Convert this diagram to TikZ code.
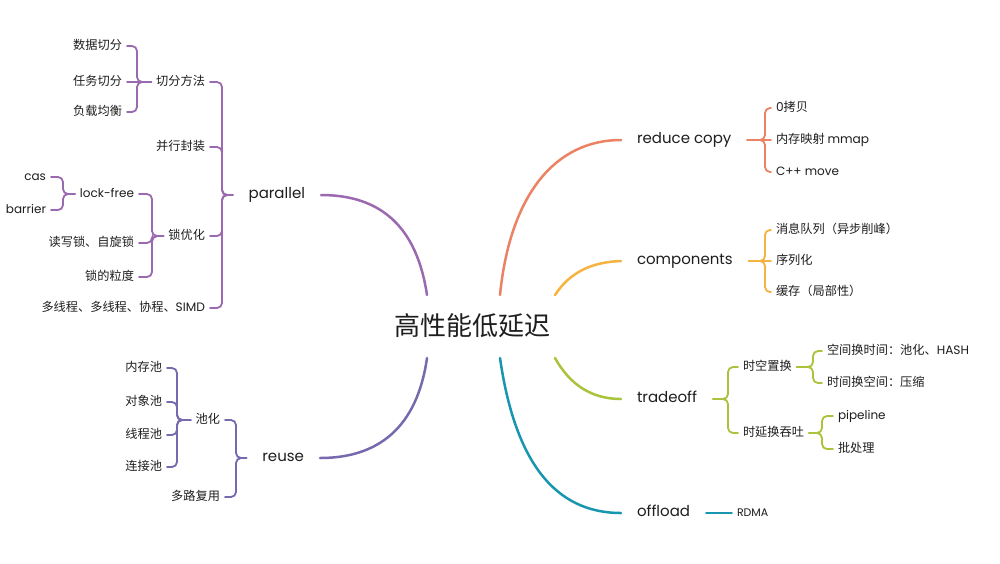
\documentclass[tikz,border=0pt]{standalone}
\usepackage{fontspec}
\newfontfamily\cjk{Noto Sans CJK SC}
\newfontfamily\lat{Poppins}
\definecolor{ink}{RGB}{30,30,30}
\definecolor{cP}{RGB}{155,105,175}
\definecolor{cR}{RGB}{120,105,175}
\definecolor{cRC}{RGB}{235,130,100}
\definecolor{cCo}{RGB}{245,180,65}
\definecolor{cT}{RGB}{170,195,60}
\definecolor{cO}{RGB}{25,150,175}
\tikzset{
 base/.style={inner sep=0pt, outer ysep=0pt, text height=0.8em, text depth=0.2em, text=ink},
 leaf/.style={base, outer xsep=5pt, font=\cjk\fontsize{12.2}{14}\selectfont},
 latleaf/.style={leaf, font=\lat\fontsize{12}{14}\selectfont},
 branch/.style={base, outer xsep=16pt, font=\lat\fontsize{15}{18}\selectfont},
 conn/.style={line width=1.8pt, rounded corners=5pt, line cap=round},
 mainline/.style={line width=2.5pt, line cap=round},
}
\begin{document}
\begin{tikzpicture}[x=1pt,y=-1pt]
\fill[white] (0,0) rectangle (1000,563);
\useasboundingbox (0,0) rectangle (1000,563);

% center
\node[inner sep=0pt, text=ink, font=\cjk\fontsize{26}{30}\selectfont] (c) at (472,326) {高性能低延迟};

% branch labels (anchor points include the 16pt outer gap)
\node[branch, anchor=east] (par) at (321,195) {parallel};
\node[branch, anchor=east] (reu) at (320,458) {reuse};
\node[branch, anchor=west] (red) at (621,140) {reduce copy};
\node[branch, anchor=west] (com) at (621,261) {components};
\node[branch, anchor=west] (tra) at (621,399) {tradeoff};
\node[branch, anchor=west] (off) at (621,513) {offload};

% main curves
\coordinate (s1) at (427,295);
\coordinate (s2) at (500,295);
\coordinate (s3) at (555,295);
\coordinate (s4) at (555,358);
\coordinate (s5) at (500,358);
\coordinate (s6) at (427,358);
\draw[mainline, cP] (s1) .. controls (417,228) and (382,195) .. (par.east);
\draw[mainline, cRC] (s2) .. controls (510,195) and (555,140) .. (red.west);
\draw[mainline, cCo] (s3) .. controls (570,272) and (592,262) .. (com.west);
\draw[mainline, cT] (s4) .. controls (570,385) and (592,399) .. (tra.west);
\draw[mainline, cO] (s5) .. controls (515,462) and (555,513) .. (off.west);
\draw[mainline, cR] (s6) .. controls (417,428) and (378,458) .. (reu.east);

% ---------- parallel subtree ----------
\node[leaf, anchor=east] (p1) at (210,82) {切分方法};
\node[leaf, anchor=east] (p2) at (210,147) {并行封装};
\node[leaf, anchor=east] (p3) at (210,236) {锁优化};
\node[leaf, anchor=east] (p4) at (210,308) {多线程、多线程、协程、{\lat SIMD}};
\coordinate (kP) at (222,195);
\draw[conn, cP] (p1.east) -| (kP) -- (par.west);
\draw[conn, cP] (p2.east) -| (kP) -- (par.west);
\draw[conn, cP] (p3.east) -| (kP) -- (par.west);
\draw[conn, cP] (p4.east) -| (kP) -- (par.west);

\node[leaf, anchor=east] (p11) at (127,46) {数据切分};
\node[leaf, anchor=east] (p12) at (127,82) {任务切分};
\node[leaf, anchor=east] (p13) at (127,112) {负载均衡};
\coordinate (k1) at (137,82);
\draw[conn, cP] (p11.east) -| (k1) -- (p1.west);
\draw[conn, cP] (p12.east) -- (p1.west);
\draw[conn, cP] (p13.east) -| (k1) -- (p1.west);

\node[latleaf, anchor=east] (p31) at (139,194) {lock-free};
\node[leaf, anchor=east] (p32) at (139,243) {读写锁、自旋锁};
\node[leaf, anchor=east] (p33) at (139,277) {锁的粒度};
\coordinate (k3) at (152,236);
\draw[conn, cP] (p31.east) -| (k3) -- (p3.west);
\draw[conn, cP] (p32.east) -| (k3) -- (p3.west);
\draw[conn, cP] (p33.east) -| (k3) -- (p3.west);

\node[latleaf, anchor=east] (p311) at (51,177) {cas};
\node[latleaf, anchor=east] (p312) at (51,210) {barrier};
\coordinate (k31) at (63,194);
\draw[conn, cP] (p311.east) -| (k31) -- (p31.west);
\draw[conn, cP] (p312.east) -| (k31) -- (p31.west);

% ---------- reuse subtree ----------
\node[leaf, anchor=east] (r1) at (225,420) {池化};
\node[leaf, anchor=east] (r2) at (225,497) {多路复用};
\coordinate (kR) at (236,458);
\draw[conn, cR] (r1.east) -| (kR) -- (reu.west);
\draw[conn, cR] (r2.east) -| (kR) -- (reu.west);

\node[leaf, anchor=east] (r11) at (167,368) {内存池};
\node[leaf, anchor=east] (r12) at (167,402) {对象池};
\node[leaf, anchor=east] (r13) at (167,435) {线程池};
\node[leaf, anchor=east] (r14) at (167,467) {连接池};
\coordinate (kR1) at (177,420);
\draw[conn, cR] (r11.east) -| (kR1) -- (r1.west);
\draw[conn, cR] (r12.east) -| (kR1) -- (r1.west);
\draw[conn, cR] (r13.east) -| (kR1) -- (r1.west);
\draw[conn, cR] (r14.east) -| (kR1) -- (r1.west);

% ---------- reduce copy ----------
\node[leaf, anchor=west] (c1) at (771,108) {{\lat 0}拷贝};
\node[leaf, anchor=west] (c2) at (771,140) {内存映射 {\lat mmap}};
\node[latleaf, anchor=west] (c3) at (771,172) {C++ move};
\coordinate (kC) at (765,140);
\draw[conn, cRC] (red.east) -- (kC) |- (c1.west);
\draw[conn, cRC] (red.east) -- (c2.west);
\draw[conn, cRC] (red.east) -- (kC) |- (c3.west);

% ---------- components ----------
\node[leaf, anchor=west] (m1) at (771,230) {消息队列（异步削峰）};
\node[leaf, anchor=west] (m2) at (771,261) {序列化};
\node[leaf, anchor=west] (m3) at (771,292) {缓存（局部性）};
\coordinate (kM) at (765,261);
\draw[conn, cCo] (com.east) -- (kM) |- (m1.west);
\draw[conn, cCo] (com.east) -- (m2.west);
\draw[conn, cCo] (com.east) -- (kM) |- (m3.west);

% ---------- tradeoff ----------
\node[leaf, anchor=west] (t1) at (738,367) {时空置换};
\node[leaf, anchor=west] (t2) at (738,433) {时延换吞吐};
\coordinate (kT) at (728,399);
\draw[conn, cT] (tra.east) -- (kT) |- (t1.west);
\draw[conn, cT] (tra.east) -- (kT) |- (t2.west);

\node[leaf, anchor=west] (t11) at (822,351) {空间换时间：池化、{\lat HASH}};
\node[leaf, anchor=west] (t12) at (822,383) {时间换空间：压缩};
\coordinate (kT1) at (813,367);
\draw[conn, cT] (t1.east) -- (kT1) |- (t11.west);
\draw[conn, cT] (t1.east) -- (kT1) |- (t12.west);

\node[latleaf, anchor=west] (t21) at (833,416) {pipeline};
\node[leaf, anchor=west] (t22) at (833,449) {批处理};
\coordinate (kT2) at (822,433);
\draw[conn, cT] (t2.east) -- (kT2) |- (t21.west);
\draw[conn, cT] (t2.east) -- (kT2) |- (t22.west);

% ---------- offload ----------
\node[leaf, anchor=west, font=\lat\fontsize{11}{13}\selectfont] (o1) at (732,513) {RDMA};
\draw[conn, cO] (off.east) -- (o1.west);
\end{tikzpicture}
\end{document}
